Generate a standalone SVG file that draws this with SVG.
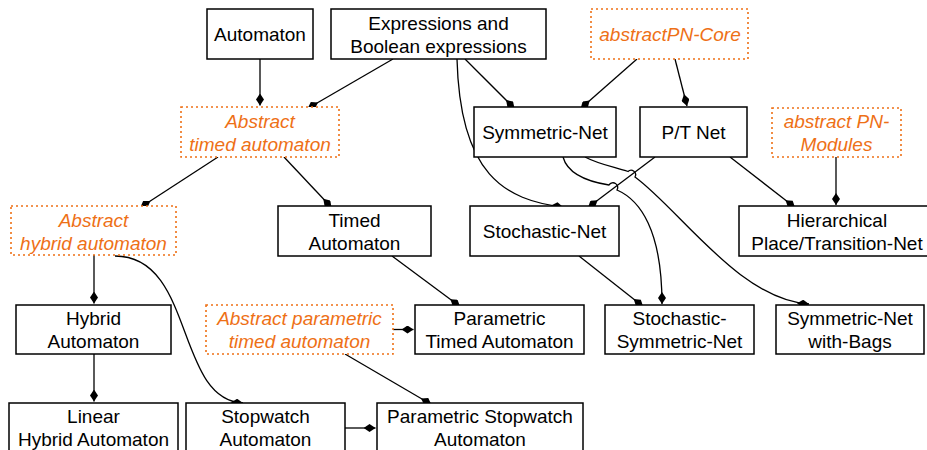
<svg xmlns="http://www.w3.org/2000/svg" width="927" height="450" viewBox="0 0 927 450">
<style>
  .box { fill: #ffffff; stroke: #000000; stroke-width: 1.5; }
  .abs { fill: #ffffff; stroke: #ee7016; stroke-width: 1.6; stroke-dasharray: 2 3; }
  text { font-family: "Liberation Sans", Arial, Helvetica, sans-serif; font-size: 19px; text-anchor: middle; fill: #000000; }
  text.it { font-style: italic; fill: #ee7016; }
  .edge { fill: none; stroke: #000000; stroke-width: 1.3; marker-end: url(#dia); }
</style>
<defs>
  <marker id="dia" markerUnits="userSpaceOnUse" markerWidth="12" markerHeight="8" viewBox="0 0 12 8" refX="12" refY="4" orient="auto">
    <path d="M0,4 L6,0 L12,4 L6,8 Z" fill="#000000"/>
  </marker>
</defs>
<rect width="927" height="450" fill="#ffffff"/>
<g id="connectors">
  <path class="edge" d="M260,59 L260,105.5"/>
  <path class="edge" d="M393,59 L307.6,108.5"/>
  <path class="edge" d="M465,59 L514.5,108.5"/>
  <path class="edge" d="M457,59 C460,175 505,200 563,207"/>
  <path class="edge" d="M637,59 L580.7,108.5"/>
  <path class="edge" d="M675,59 L687,106"/>
  <path class="edge" d="M655,157 L588,207.5"/>
  <path class="edge" d="M730,157 L795,207.5"/>
  <path class="edge" d="M836,157 L836,205"/>
  <path class="edge" d="M563,157 C568,175 590,182 609,185 A4.5,4.5 0 0 1 617,190 C640,200 662,230 662,304"/>
  <path class="edge" d="M585,157 C598,164 614,167 628,171.5 A4.5,4.5 0 0 1 635,177 C680,210 740,300 809,304"/>
  <path class="edge" d="M115,256 C195,256 175,400 243,403"/>
  <path class="edge" d="M218,157 L140.3,207.5"/>
  <path class="edge" d="M284,157 L331.5,207.5"/>
  <path class="edge" d="M94,255 L94,303.5"/>
  <path class="edge" d="M94,354 L94,401.5"/>
  <path class="edge" d="M392,256 L460,306.5"/>
  <path class="edge" d="M393,329.5 L413.5,329.5"/>
  <path class="edge" d="M345,354 L431.4,404.5"/>
  <path class="edge" d="M345,428 L375.5,428"/>
  <path class="edge" d="M579,256 L643.1,306.5"/>
</g>
<g id="n-automaton">
  <rect class="box" x="207" y="9" width="106" height="50"/>
  <text x="260" y="40.8">Automaton</text>
</g>
<g id="n-expressions">
  <rect class="box" x="331" y="9" width="215" height="50"/>
  <text x="438.5" y="29.8">Expressions and</text>
  <text x="438.5" y="52.8">Boolean expressions</text>
</g>
<g id="n-abstractpn-core">
  <rect class="abs" x="591" y="9" width="157" height="50"/>
  <text class="it" x="670" y="40.8">abstractPN-Core</text>
</g>
<g id="n-abstract-timed">
  <rect class="abs" x="181" y="107" width="158" height="50"/>
  <text class="it" x="260" y="128.3">Abstract</text>
  <text class="it" x="260" y="151.3">timed automaton</text>
</g>
<g id="n-symmetric-net">
  <rect class="box" x="474" y="107" width="142" height="50"/>
  <text x="545" y="139">Symmetric-Net</text>
</g>
<g id="n-pt-net">
  <rect class="box" x="640" y="107" width="107" height="50"/>
  <text x="693.5" y="139">P/T Net</text>
</g>
<g id="n-pn-modules">
  <rect class="abs" x="772" y="108" width="129" height="49"/>
  <text class="it" x="836.5" y="128.3">abstract PN-</text>
  <text class="it" x="836.5" y="151.3">Modules</text>
</g>
<g id="n-abstract-hybrid">
  <rect class="abs" x="11" y="206" width="165" height="49"/>
  <text class="it" x="93.5" y="226.7">Abstract</text>
  <text class="it" x="93.5" y="249.5">hybrid automaton</text>
</g>
<g id="n-timed">
  <rect class="box" x="278" y="206" width="153" height="50"/>
  <text x="354.5" y="226.7">Timed</text>
  <text x="354.5" y="249.5">Automaton</text>
</g>
<g id="n-stochastic">
  <rect class="box" x="470" y="206" width="149" height="50"/>
  <text x="544.5" y="238.3">Stochastic-Net</text>
</g>
<g id="n-hierarchical">
  <rect class="box" x="739" y="206" width="196" height="50"/>
  <text x="837" y="226.7">Hierarchical</text>
  <text x="837" y="249.5">Place/Transition-Net</text>
</g>
<g id="n-hybrid">
  <rect class="box" x="16" y="305" width="155" height="49"/>
  <text x="93.5" y="325.2">Hybrid</text>
  <text x="93.5" y="348.2">Automaton</text>
</g>
<g id="n-abstract-parametric">
  <rect class="abs" x="206" y="305" width="187" height="49"/>
  <text class="it" x="299.5" y="325.2">Abstract parametric</text>
  <text class="it" x="299.5" y="348.2">timed automaton</text>
</g>
<g id="n-parametric-timed">
  <rect class="box" x="415" y="305" width="169" height="49"/>
  <text x="499.5" y="325.2">Parametric</text>
  <text x="499.5" y="348.2">Timed Automaton</text>
</g>
<g id="n-stochastic-symmetric">
  <rect class="box" x="605" y="305" width="149" height="49"/>
  <text x="679.5" y="325.2">Stochastic-</text>
  <text x="679.5" y="348.2">Symmetric-Net</text>
</g>
<g id="n-symmetric-bags">
  <rect class="box" x="776" y="305" width="148" height="49"/>
  <text x="850" y="325.2">Symmetric-Net</text>
  <text x="850" y="348.2">with-Bags</text>
</g>
<g id="n-linear-hybrid">
  <rect class="box" x="9" y="403" width="169" height="50"/>
  <text x="93.5" y="423.4">Linear</text>
  <text x="93.5" y="446.2">Hybrid Automaton</text>
</g>
<g id="n-stopwatch">
  <rect class="box" x="186" y="403" width="159" height="50"/>
  <text x="265.5" y="423.4">Stopwatch</text>
  <text x="265.5" y="446.2">Automaton</text>
</g>
<g id="n-parametric-stopwatch">
  <rect class="box" x="377" y="403" width="206" height="50"/>
  <text x="480" y="423.4">Parametric Stopwatch</text>
  <text x="480" y="446.2">Automaton</text>
</g>
</svg>
